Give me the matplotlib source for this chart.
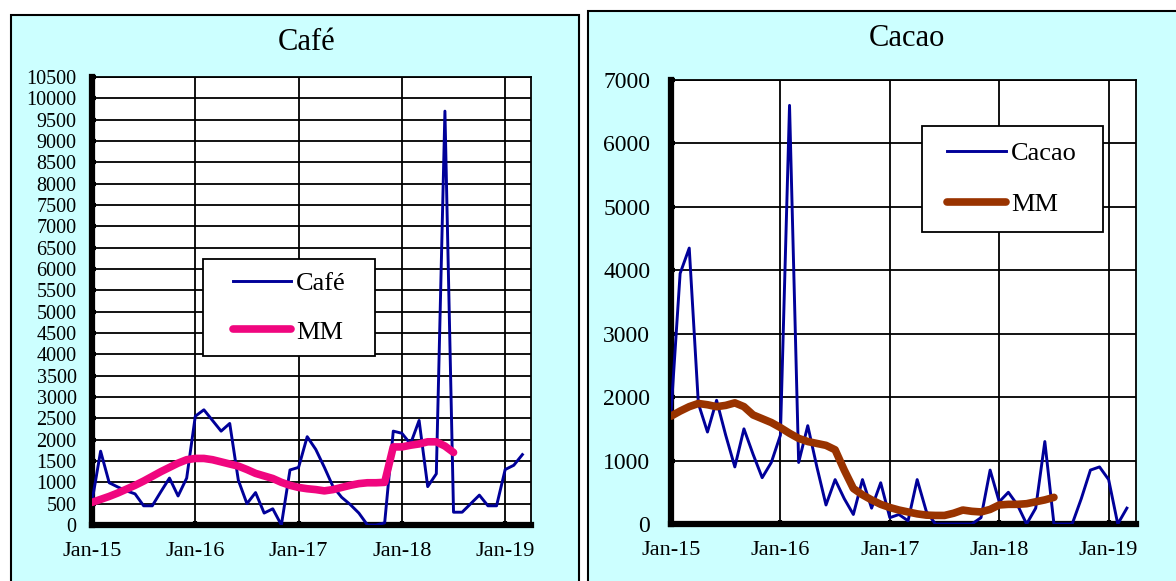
import matplotlib.pyplot as plt
from matplotlib.patches import Rectangle

# monthly data, Jan-15 .. Mar-19
months = list(range(51))
cafe = [550, 1730, 990, 890, 800, 730, 450, 450, 780, 1100,
        680, 1100, 2550, 2700, 2450, 2200, 2380, 1050, 500, 760,
        280, 380, 0, 1290, 1350, 2070, 1770, 1350, 900, 650,
        480, 280, 0, 0, 50, 2200, 2150, 1900, 2450, 900,
        1200, 9700, 300, 300, 500, 700, 450, 450, 1300, 1400, 1650]
cafe_mm = [530, 600, 670, 750, 840, 930, 1030, 1140, 1250, 1350,
           1450, 1530, 1560, 1560, 1530, 1480, 1430, 1380, 1300, 1210,
           1150, 1090, 1000, 930, 880, 850, 830, 800, 830, 880,
           930, 970, 990, 990, 1000, 1830, 1830, 1870, 1900, 1950,
           1950, 1850, 1700]
cacao = [1750, 3950, 4350, 1900, 1450, 1950, 1400, 900, 1500, 1100,
         730, 970, 1400, 6600, 970, 1550, 900, 300, 700, 400,
         150, 700, 250, 650, 100, 150, 50, 700, 200, 0,
         0, 0, 0, 0, 100, 850, 350, 500, 300, 0,
         250, 1300, 0, 0, 0, 400, 850, 900, 700, 0, 250]
cacao_mm = [1700, 1780, 1850, 1900, 1880, 1850, 1870, 1910, 1850, 1720,
            1660, 1600, 1520, 1430, 1350, 1300, 1270, 1240, 1170, 850,
            560, 460, 380, 310, 260, 220, 190, 160, 140, 135,
            135, 170, 220, 200, 190, 230, 300, 310, 310, 320,
            350, 380, 420]

tick_pos = [0, 12, 24, 36, 48]
tick_labels = ['Jan-15', 'Jan-16', 'Jan-17', 'Jan-18', 'Jan-19']

plt.rcParams['font.family'] = ['Liberation Serif', 'DejaVu Serif']

navy = '#000099'
bg = '#CCFFFF'

fig = plt.figure(figsize=(11.76, 5.81), dpi=100)
fig.patches.append(Rectangle((11/1176, -0.05), 568/1176, 1.05 - 15/581,
                             transform=fig.transFigure, facecolor=bg,
                             edgecolor='black', linewidth=1.5, zorder=-5))
fig.patches.append(Rectangle((588/1176, -0.05), 600/1176, 1.05 - 11/581,
                             transform=fig.transFigure, facecolor=bg,
                             edgecolor='black', linewidth=1.5, zorder=-5))


def style_axes(ax, ymax, ystep, ylab_size, ypad):
    ax.set_facecolor('white')
    ax.set_xlim(0, 51)
    ax.set_ylim(0, ymax)
    ax.set_xticks(tick_pos)
    ax.set_xticklabels(tick_labels)
    ax.set_yticks(range(0, ymax + 1, ystep))
    ax.grid(True, color='black', linewidth=1.3)
    ax.set_axisbelow(True)
    for s in ['top', 'right']:
        ax.spines[s].set_linewidth(1.3)
    for s in ['left', 'bottom']:
        ax.spines[s].set_linewidth(4.5)
    ax.tick_params(axis='x', direction='in', length=3, width=3, pad=12,
                   labelsize=16)
    ax.tick_params(axis='y', direction='in', length=3, width=3, pad=ypad,
                   labelsize=ylab_size)


def boxed_legend(ax, x0, y0, x1, y1, spacing):
    # white legend frame drawn by hand so its padding matches the original
    ax.add_patch(Rectangle((x0, y0), x1 - x0, y1 - y0, transform=ax.transAxes,
                           facecolor='white', edgecolor='black',
                           linewidth=1.3, zorder=5))
    leg = ax.legend(loc='center', bbox_to_anchor=((x0 + x1) / 2, (y0 + y1) / 2),
                    borderaxespad=0, borderpad=0, fontsize=19,
                    handlelength=2.2, handletextpad=0.2, labelspacing=spacing,
                    frameon=False)
    leg.set_zorder(6)


# Café panel
ax1 = fig.add_axes([92/1176, 1 - 525/581, 439/1176, 448/581])
ax1.plot(months, cafe, color=navy, linewidth=2.1, label='Café', zorder=3)
ax1.plot(months[:len(cafe_mm)], cafe_mm, color='#F0067F', linewidth=5.5,
         solid_capstyle='round', label='MM', zorder=4)
style_axes(ax1, 10500, 500, 14.5, 11)
fig.text(307/1176, 1 - 43/581, 'Café', ha='center', va='center', fontsize=22)
boxed_legend(ax1, 0.253, 0.377, 0.645, 0.594, 0.95)

# Cacao panel
ax2 = fig.add_axes([671/1176, 1 - 524/581, 465/1176, 444/581])
ax2.plot(months, cacao, color=navy, linewidth=2.1, label='Cacao', zorder=3)
ax2.plot(months[:len(cacao_mm)], cacao_mm, color='#993300', linewidth=5.5,
         solid_capstyle='round', label='MM', zorder=4)
style_axes(ax2, 7000, 1000, 17, 15)
fig.text(907/1176, 1 - 38/581, 'Cacao', ha='center', va='center', fontsize=22)
boxed_legend(ax2, 0.539, 0.658, 0.928, 0.896, 1.05)

fig.savefig('out.png', dpi=100)
